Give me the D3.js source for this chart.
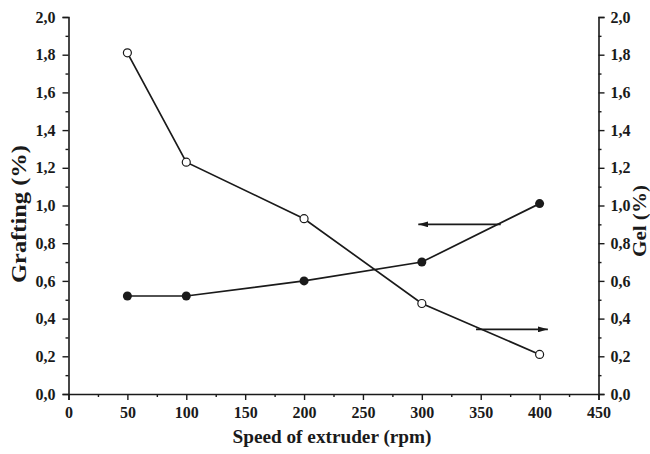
<!DOCTYPE html>
<html>
<head>
<meta charset="utf-8">
<script src="https://cdn.jsdelivr.net/npm/d3@7"></script>
<style>
body { margin: 0; background: #fff; }
text { font-family: "Liberation Serif", "Times New Roman", serif; fill: #1a1a1a; }
</style>
</head>
<body>
<script>
// data
var speeds = [50, 100, 200, 300, 400];
var grafting = [0.52, 0.52, 0.60, 0.70, 1.01];
var gel = [1.81, 1.23, 0.93, 0.48, 0.21];
var xTicks = [0, 50, 100, 150, 200, 250, 300, 350, 400, 450];
var yTicks = [0, 0.2, 0.4, 0.6, 0.8, 1.0, 1.2, 1.4, 1.6, 1.8, 2.0];
// arrows pointing to the axis each series belongs to: [x from, x to, y]
var graftArrow = [367, 297, 0.9];
var gelArrow = [346, 407, 0.343];

var width = 650, height = 454;
var margin = {left: 68.5, right: 51.5, top: 17, bottom: 60};

var svg = d3.select("body").append("svg")
    .attr("width", width)
    .attr("height", height);

var x = d3.scaleLinear().domain([0, 450]).range([margin.left, width - margin.right]);
var yL = d3.scaleLinear().domain([0, 2]).range([height - margin.bottom, margin.top]);
var yR = d3.scaleLinear().domain([0, 2]).range([height - margin.bottom, margin.top]);

var fmt = function(d){ return d3.format(".1f")(d).replace(".", ","); };
var ink = "#1a1a1a";

// minor ticks
var xMinor = d3.range(25, 450, 50);
var yMinor = d3.range(0.1, 2.0, 0.2);

function styleAxis(g){
    g.select(".domain").attr("stroke", ink).attr("stroke-width", 1.6);
    g.selectAll(".tick line").attr("stroke", ink).attr("stroke-width", 1.4);
    g.selectAll(".tick text").attr("font-size", 16).attr("font-weight", "bold").style("fill", ink);
}

// bottom axis
var gx = svg.append("g")
    .attr("transform", "translate(0," + yL(0) + ")")
    .call(d3.axisBottom(x).tickValues(xTicks).tickSize(6).tickPadding(7).tickFormat(d3.format("d")));
styleAxis(gx);
svg.append("g")
    .attr("transform", "translate(0," + yL(0) + ")")
    .call(d3.axisBottom(x).tickValues(xMinor).tickSize(3).tickFormat(""))
    .call(function(g){ g.select(".domain").remove(); styleAxis(g); });

// left axis
var gy = svg.append("g")
    .attr("transform", "translate(" + x(0) + ",0)")
    .call(d3.axisLeft(yL).tickValues(yTicks).tickSize(6).tickPadding(7).tickFormat(fmt));
styleAxis(gy);
svg.append("g")
    .attr("transform", "translate(" + x(0) + ",0)")
    .call(d3.axisLeft(yL).tickValues(yMinor).tickSize(3).tickFormat(""))
    .call(function(g){ g.select(".domain").remove(); styleAxis(g); });

// right axis
var gr = svg.append("g")
    .attr("transform", "translate(" + x(450) + ",0)")
    .call(d3.axisRight(yR).tickValues(yTicks).tickSize(6).tickPadding(6).tickFormat(fmt));
styleAxis(gr);
svg.append("g")
    .attr("transform", "translate(" + x(450) + ",0)")
    .call(d3.axisRight(yR).tickValues(yMinor).tickSize(3).tickFormat(""))
    .call(function(g){ g.select(".domain").remove(); styleAxis(g); });

// axis titles
svg.append("text")
    .attr("x", 332)
    .attr("y", 443)
    .attr("text-anchor", "middle")
    .attr("font-size", 19)
    .attr("font-weight", "bold")
    .attr("textLength", 199)
    .attr("lengthAdjust", "spacingAndGlyphs")
    .text("Speed of extruder (rpm)");

svg.append("text")
    .attr("transform", "translate(26,214) rotate(-90)")
    .attr("text-anchor", "middle")
    .attr("font-size", 21)
    .attr("font-weight", "bold")
    .attr("textLength", 138)
    .attr("lengthAdjust", "spacingAndGlyphs")
    .text("Grafting (%)");

svg.append("text")
    .attr("transform", "translate(646,221) rotate(-90)")
    .attr("text-anchor", "middle")
    .attr("font-size", 19)
    .attr("font-weight", "bold")
    .attr("textLength", 72)
    .attr("lengthAdjust", "spacingAndGlyphs")
    .text("Gel (%)");

// lines
var line = function(yScale, vals){
    return d3.line()
        .x(function(d, i){ return x(speeds[i]); })
        .y(function(d){ return yScale(d); })(vals);
};

svg.append("path")
    .attr("d", line(yL, grafting))
    .attr("fill", "none")
    .attr("stroke", ink)
    .attr("stroke-width", 1.7);

svg.append("path")
    .attr("d", line(yR, gel))
    .attr("fill", "none")
    .attr("stroke", ink)
    .attr("stroke-width", 1.7);

// markers
svg.selectAll(".graft")
    .data(grafting)
    .enter()
    .append("circle")
    .attr("class", "graft")
    .attr("cx", function(d, i){ return x(speeds[i]); })
    .attr("cy", function(d){ return yL(d); })
    .attr("r", 4.5)
    .attr("fill", ink);

svg.selectAll(".gel")
    .data(gel)
    .enter()
    .append("circle")
    .attr("class", "gel")
    .attr("cx", function(d, i){ return x(speeds[i]); })
    .attr("cy", function(d){ return yR(d); })
    .attr("r", 4)
    .attr("fill", "#fff")
    .attr("stroke", ink)
    .attr("stroke-width", 1.2);

// arrows
svg.append("defs").append("marker")
    .attr("id", "head")
    .attr("viewBox", "0 0 10 6")
    .attr("refX", 10)
    .attr("refY", 3)
    .attr("markerWidth", 10)
    .attr("markerHeight", 6)
    .attr("markerUnits", "userSpaceOnUse")
    .attr("orient", "auto")
    .append("path")
    .attr("d", "M0,0 L10,3 L0,6 Z")
    .attr("fill", ink);

[[graftArrow, yL], [gelArrow, yR]].forEach(function(a){
    var arr = a[0], s = a[1];
    svg.append("line")
        .attr("x1", x(arr[0]))
        .attr("x2", x(arr[1]))
        .attr("y1", s(arr[2]))
        .attr("y2", s(arr[2]))
        .attr("stroke", ink)
        .attr("stroke-width", 1.8)
        .attr("marker-end", "url(#head)");
});
</script>
</body>
</html>
